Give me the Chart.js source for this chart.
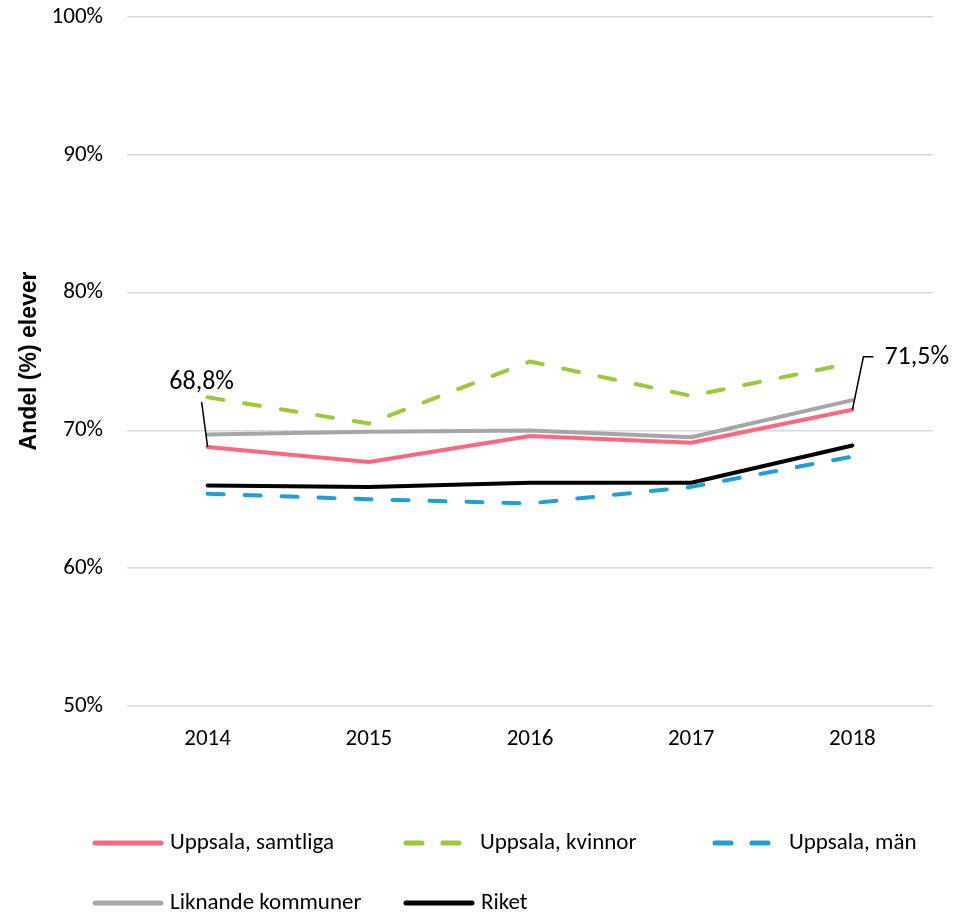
<!DOCTYPE html>
<html lang="sv">
<head>
    <meta charset="utf-8">
    <title>Andel elever</title>
    <script src="https://cdn.jsdelivr.net/npm/chart.js"></script>
    <style>
        body { margin: 0; background: #fff; }
        #wrap { width: 956px; height: 916px; }
    </style>
</head>
<body>
    <div id="wrap"><canvas id="chart"></canvas></div>
    <script>
        const years = ['2014', '2015', '2016', '2017', '2018'];
        const samtliga = [68.8, 67.7, 69.6, 69.1, 71.5];
        const kvinnor = [72.4, 70.5, 75.0, 72.5, 74.9];
        const man = [65.4, 65.0, 64.7, 65.9, 68.1];
        const liknande = [69.7, 69.9, 70.0, 69.5, 72.2];
        const riket = [66.0, 65.9, 66.2, 66.2, 68.9];
        const labelsShown = ['68,8%', '', '', '', '71,5%'];

        const FONT = 'Carlito, Lato, sans-serif';
        const dash = [16, 21];

        // legend drawn by hand to get the grid layout of the original
        const legendItems = [
            { text: 'Uppsala, samtliga', color: '#ff6680', dash: [], x: 93, y: 843 },
            { text: 'Uppsala, kvinnor', color: '#9bc93a', dash: dash, x: 404, y: 843 },
            { text: 'Uppsala, män', color: '#1f9fd9', dash: dash, x: 713, y: 843 },
            { text: 'Liknande kommuner', color: '#a6a6a6', dash: [], x: 93, y: 903 },
            { text: 'Riket', color: '#000000', dash: [], x: 404, y: 903 }
        ];

        const extras = {
            id: 'extras',
            afterDraw(chart) {
                const ctx = chart.ctx;
                ctx.save();

                // y axis title
                ctx.fillStyle = '#000';
                ctx.font = 'bold 23px "Liberation Sans", Arial, sans-serif';
                ctx.textAlign = 'center';
                ctx.textBaseline = 'middle';
                ctx.translate(30, 361);
                ctx.rotate(-Math.PI / 2);
                ctx.fillText('Andel (%) elever', 0, 0);
                ctx.setTransform(1, 0, 0, 1, 0, 0);

                // data labels with leader lines
                const pts = chart.getDatasetMeta(0).data;
                ctx.font = '26px ' + FONT;
                ctx.strokeStyle = '#000';
                ctx.lineWidth = 1.5;
                let p = pts[0];
                ctx.beginPath();
                ctx.moveTo(p.x - 6, p.y - 45);
                ctx.lineTo(p.x, p.y);
                ctx.stroke();
                ctx.textAlign = 'center';
                ctx.fillText(labelsShown[0], p.x - 6, p.y - 64);

                p = pts[4];
                ctx.beginPath();
                ctx.moveTo(p.x, p.y);
                ctx.lineTo(p.x + 11, p.y - 53);
                ctx.lineTo(p.x + 21, p.y - 53);
                ctx.stroke();
                ctx.textAlign = 'left';
                ctx.fillText(labelsShown[4], p.x + 32, p.y - 52);

                // legend
                ctx.font = '23px ' + FONT;
                ctx.lineCap = 'round';
                legendItems.forEach(it => {
                    ctx.strokeStyle = it.color;
                    ctx.lineWidth = 5;
                    ctx.setLineDash(it.dash);
                    ctx.beginPath();
                    ctx.moveTo(it.x + 2, it.y);
                    ctx.lineTo(it.x + 68, it.y);
                    ctx.stroke();
                    ctx.setLineDash([]);
                    ctx.fillStyle = '#000';
                    ctx.textAlign = 'left';
                    ctx.fillText(it.text, it.x + (it.dash.length ? 76 : 77), it.y);
                });
                ctx.restore();
            }
        };

        function line(label, data, color, borderDash) {
            return {
                label: label,
                data: data,
                borderColor: color,
                backgroundColor: color,
                borderWidth: 4,
                borderDash: borderDash,
                borderCapStyle: 'round',
                borderJoinStyle: 'round',
                pointRadius: 0,
                tension: 0,
                fill: false
            };
        }

        new Chart(document.getElementById('chart'), {
            type: 'line',
            data: {
                labels: years,
                datasets: [
                    line('Uppsala, samtliga', samtliga, '#ff6680', []),
                    line('Uppsala, kvinnor', kvinnor, '#9bc93a', dash),
                    line('Uppsala, män', man, '#1f9fd9', dash),
                    line('Liknande kommuner', liknande, '#a6a6a6', []),
                    line('Riket', riket, '#000000', [])
                ]
            },
            options: {
                responsive: true,
                maintainAspectRatio: false,
                animation: false,
                layout: { padding: { top: 17, right: 23, bottom: 150, left: 0 } },
                plugins: {
                    legend: { display: false },
                    tooltip: { enabled: false }
                },
                scales: {
                    x: {
                        offset: true,
                        border: { display: false },
                        grid: { display: false, drawTicks: false },
                        ticks: { color: '#000', padding: 19, font: { family: FONT, size: 23 } },
                        afterFit: s => { s.height = 60; }
                    },
                    y: {
                        min: 50,
                        max: 100,
                        border: { display: false },
                        grid: { color: '#d9d9d9', lineWidth: 1.5, drawTicks: false },
                        ticks: {
                            stepSize: 10,
                            color: '#000',
                            padding: 24,
                            font: { family: FONT, size: 23 },
                            callback: v => v + '%'
                        },
                        afterFit: s => {
                            s.width = 127;
                            s.paddingTop = 0;
                            s.paddingBottom = 0;
                        }
                    }
                }
            },
            plugins: [extras]
        });
    </script>
</body>
</html>
